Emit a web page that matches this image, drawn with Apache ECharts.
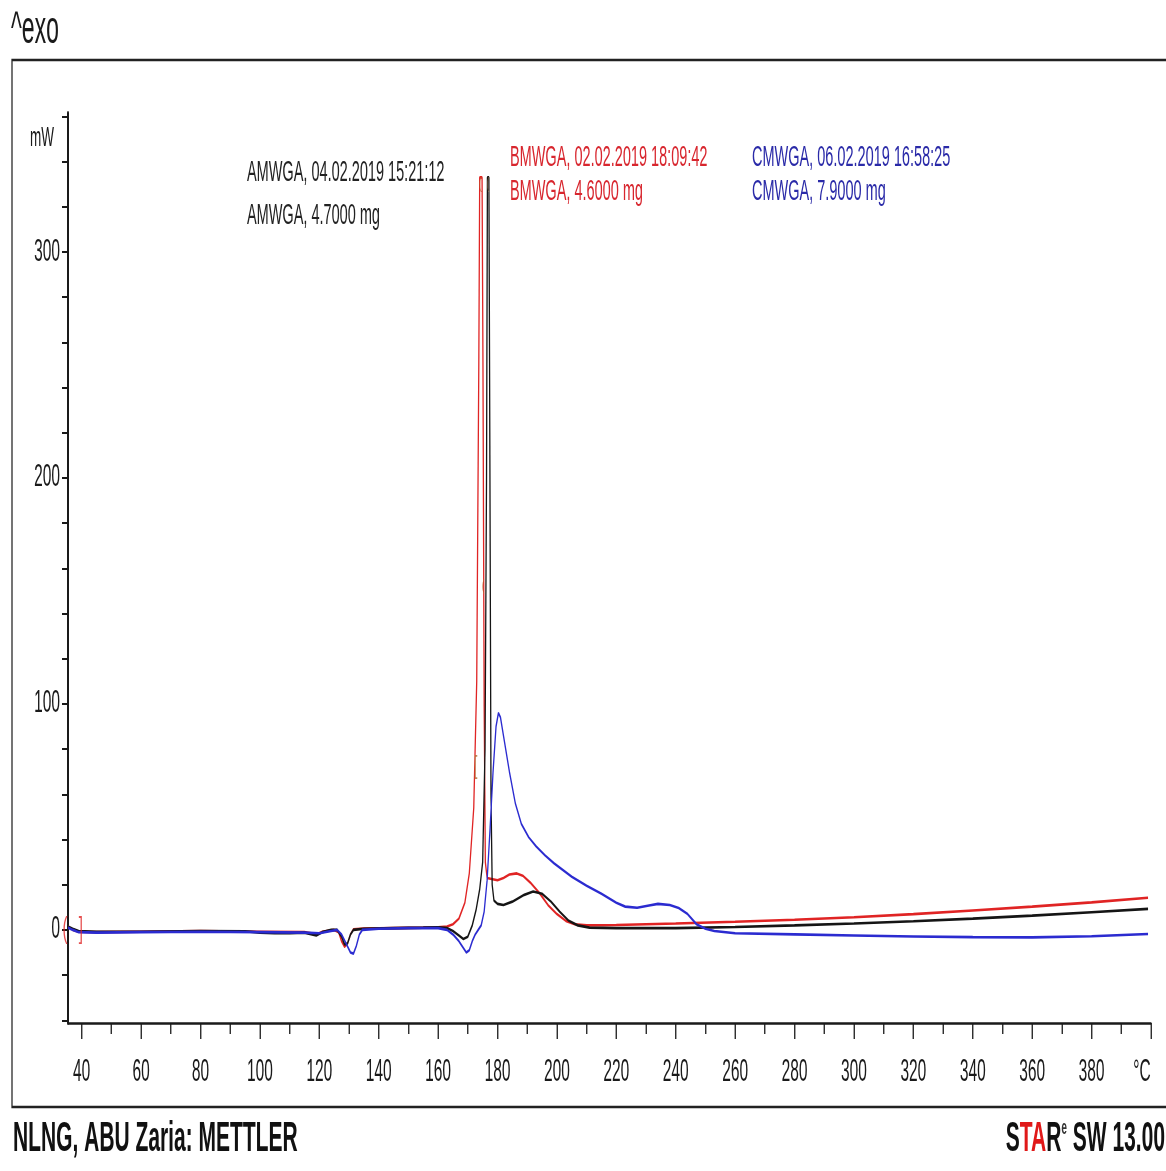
<!DOCTYPE html>
<html>
<head>
<meta charset="utf-8">
<title>DSC AMWGA / BMWGA / CMWGA</title>
<script src="https://cdn.jsdelivr.net/npm/echarts@6/dist/echarts.min.js"></script>
<style>
html, body { margin: 0; padding: 0; background: #fff; overflow: hidden; }
#wrap { width: 1166px; height: 1171px; overflow: hidden; position: relative; }
/* the reference is a horizontally squeezed screenshot, so the chart is drawn wide and squeezed */
#main { width: 2332px; height: 1171px; transform: scaleX(0.5); transform-origin: 0 0; }
</style>
</head>
<body>
<div id="wrap"><div id="main"></div></div>
<script>
// ---- data: [temperature °C, heat flow mW] ----
const curveA = [[35.4,1.5],[37,0.5],[39,-0.5],[45,-0.8],[60,-0.8],[80,-0.5],[95,-0.6],[100,-1.2],[105,-1.5],[110,-1.5],[115,-1.2],[119,-2.5],[121,-1],[124,0],[126,0],[127.5,-3],[128.5,-6.5],[129.5,-6],[130.5,-2],[131.5,0],[135,0.5],[145,0.8],[155,1],[160,1.2],[163,0.8],[165,-0.5],[167,-2.5],[168.5,-4],[170,-3],[171.5,2],[172.8,9],[174,18],[175,30],[175.8,80],[176.3,200],[176.6,333],[177.1,333],[177.4,220],[177.8,60],[178.2,20],[178.8,13],[180,11.5],[182,11],[185,12.5],[189,15.5],[192,17],[195,16],[198,12.5],[201,8],[204,4],[207,2],[211,1],[220,0.8],[240,0.8],[260,1.3],[280,2],[300,2.8],[320,3.8],[340,5],[360,6.3],[380,7.8],[399,9.3]];
const curveB = [[35.4,1.5],[37,0],[39,-0.8],[45,-1],[60,-0.8],[80,-0.5],[100,-0.8],[115,-1],[119,-2],[121,-0.8],[125,0],[126.5,-1],[127.5,-5],[128.5,-7.5],[129.5,-6],[130.5,-2],[131.5,0.3],[135,0.6],[145,0.8],[155,1],[160,1.2],[163,1.5],[165,2.5],[167,5],[169,12],[170.5,25],[172,54],[173,110],[173.7,250],[174,333],[174.8,333],[175.1,250],[175.5,100],[175.9,30],[176.5,23],[178,22.5],[180,22],[182,23],[184,24.5],[186.5,25],[188.5,24],[191,21],[194,16.5],[197,11],[200,7],[203,4],[206,2.5],[210,2],[220,2.2],[240,2.8],[260,3.6],[280,4.5],[300,5.6],[320,7],[340,8.6],[360,10.3],[380,12.2],[399,14.2]];
const curveC = [[35.4,1],[37,0],[39,-1],[45,-1.2],[60,-1],[80,-0.8],[100,-1],[115,-1.2],[120,-1.5],[124,-0.5],[126,0],[127.5,-2],[129,-6],[130.5,-10],[131.5,-10.5],[132.5,-7],[133.5,-2],[134.5,0],[140,0.5],[150,0.8],[160,0.8],[163,0],[165,-2],[167,-5],[168.5,-8],[169.5,-10],[170.5,-9],[171.5,-5],[172.5,-2],[173.5,0],[174.5,2],[175.5,8],[176.5,22],[177.5,45],[178.5,70],[179.5,90],[180.3,96],[181,94],[182,86],[184,70],[186,56],[188,47],[190.5,41],[193,37],[196,33],[199,29.5],[202,26.5],[205,23.5],[210,19.5],[215,16],[220,12],[223,10.3],[227,9.8],[231,10.8],[234,11.5],[238,11],[241,9.7],[244,7],[247,2.5],[250,0.5],[253,-0.5],[260,-1.5],[280,-2],[300,-2.5],[320,-2.9],[340,-3.2],[360,-3.3],[380,-2.8],[399,-1.8]];

// integration limit brackets [temperature, mW]
const bracketPos = [[34.4,0],[39.7,0],[172.6,72],[175.2,152],[174.2,330],[176.8,330]];
const bracketText = ['(', ']', '[', '(', '(', '('];

const xMajorTicks = [40,60,80,100,120,140,160,180,200,220,240,260,280,300,320,340,360,380,400];
const xMinorTicks = [50,70,90,110,130,150,170,190,210,230,250,270,290,310,330,350,370,390];
const yTicks = [-40,-20,0,20,40,60,80,100,120,140,160,180,200,220,240,260,280,300,320,340,360];
const yLabels = [0,100,200,300];

const legendA = ['AMWGA, 04.02.2019 15:21:12', 'AMWGA, 4.7000 mg'];
const legendB = ['BMWGA, 02.02.2019 18:09:42', 'BMWGA, 4.6000 mg'];
const legendC = ['CMWGA, 06.02.2019 16:58:25', 'CMWGA, 7.9000 mg'];

// ---- layout helpers ----
const SX = 0.5;
const px = v => v / SX;
const FONT = 'Liberation Sans, Arial, sans-serif';
const INK = '#1a1a1a';
const RED = '#e02424';
const BLUE = '#2b2bd0';

const chart = echarts.init(document.getElementById('main'));

function legendText(lines, x, y1, y2, color) {
    return [
        { type: 'text', x: px(x), y: y1, style: { text: lines[0], font: '29px ' + FONT, fill: color, align: 'left', verticalAlign: 'middle' } },
        { type: 'text', x: px(x), y: y2, style: { text: lines[1], font: '29px ' + FONT, fill: color, align: 'left', verticalAlign: 'middle' } }
    ];
}

const bracketColors = [RED, RED, '#b06a30', '#b06a30', '#b06a30', '#8a6a40'];
const bracketSizes = [30, 30, 26, 16, 16, 16];

const option = {
    animation: false,
    backgroundColor: '#fff',
    grid: { left: px(68), right: px(15), top: 113, bottom: 148, containLabel: false },
    xAxis: [
        {
            type: 'value', min: 35.4, max: 400, position: 'bottom',
            axisLine: { show: true, onZero: false, lineStyle: { color: INK, width: 2.5 } },
            axisTick: { show: true, customValues: xMajorTicks, length: 16, lineStyle: { color: INK, width: 2.6 } },
            axisLabel: {
                customValues: xMajorTicks, margin: 34, fontSize: 31, fontFamily: FONT, color: INK,
                formatter: v => v === 400 ? '{c|°C}' : String(v),
                rich: { c: { fontSize: 31, fontFamily: FONT, color: INK, padding: [0, 36, 0, 0] } }
            },
            splitLine: { show: false }
        },
        {
            type: 'value', min: 35.4, max: 400, position: 'bottom',
            axisLine: { show: false, onZero: false },
            axisTick: { show: true, customValues: xMinorTicks, length: 11, lineStyle: { color: INK, width: 2.6 } },
            axisLabel: { show: false },
            splitLine: { show: false }
        }
    ],
    yAxis: {
        type: 'value', min: -41.2, max: 361.5,
        axisLine: { show: true, onZero: false, lineStyle: { color: INK, width: 4 } },
        axisTick: { show: true, customValues: yTicks, length: px(6), lineStyle: { color: INK, width: 2 } },
        axisLabel: { customValues: yLabels, margin: px(8), fontSize: 31, fontFamily: FONT, color: INK },
        splitLine: { show: false }
    },
    series: [
        { name: 'AMWGA', type: 'line', data: curveA, showSymbol: false, lineStyle: { color: '#151515', width: 2.6 }, z: 3 },
        { name: 'BMWGA', type: 'line', data: curveB, showSymbol: false, lineStyle: { color: RED, width: 2.6 }, z: 2 },
        { name: 'CMWGA', type: 'line', data: curveC, showSymbol: false, lineStyle: { color: BLUE, width: 2.6 }, z: 4 },
        {
            type: 'scatter', clip: false, symbol: 'circle', symbolSize: 1, silent: true, z: 5,
            itemStyle: { color: 'rgba(0,0,0,0)' },
            data: bracketPos.map((p, i) => ({
                value: p,
                label: { show: true, position: 'inside', formatter: bracketText[i], color: bracketColors[i], fontSize: bracketSizes[i], fontFamily: FONT }
            }))
        }
    ],
    graphic: [
        { type: 'rect', shape: { x: px(12), y: 60, width: px(1180), height: 1047 }, style: { fill: 'none', stroke: '#222', lineWidth: 2.5 } },
        { type: 'text', x: px(11), y: 30, style: { text: '^exo', font: '46px ' + FONT, fill: INK, align: 'left', verticalAlign: 'middle' } },
        { type: 'text', x: px(30), y: 139, style: { text: 'mW', font: '27px ' + FONT, fill: INK, align: 'left', verticalAlign: 'middle' } },
        ...legendText(legendA, 247, 173, 216, '#222'),
        ...legendText(legendB, 510, 158, 192, '#d8262e'),
        ...legendText(legendC, 752, 158, 192, '#2a2aa8'),
        { type: 'text', x: px(13), y: 1139, style: { text: 'NLNG, ABU Zaria: METTLER', font: 'bold 42px ' + FONT, fill: '#111', align: 'left', verticalAlign: 'middle' } },
        {
            type: 'text', x: px(1165), y: 1139,
            style: {
                text: '{b|S}{r|TA}{b|R}{s|e}{b| SW 13.00}', align: 'right', verticalAlign: 'middle',
                rich: {
                    b: { font: 'bold 42px ' + FONT, fill: '#111' },
                    r: { font: 'bold 42px ' + FONT, fill: '#e01818' },
                    s: { font: 'bold 20px ' + FONT, fill: '#333', verticalAlign: 'top' }
                }
            }
        }
    ]
};

chart.setOption(option);
</script>
</body>
</html>
